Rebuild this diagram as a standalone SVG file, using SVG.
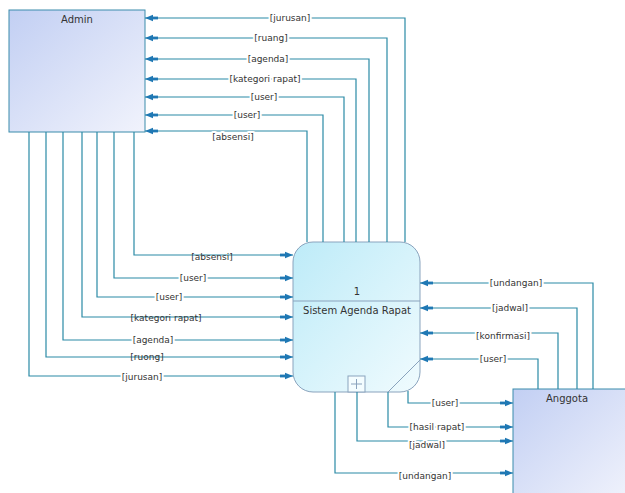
<svg xmlns="http://www.w3.org/2000/svg" width="625" height="493" viewBox="0 0 625 493">
<style>
.ln{fill:none;stroke:#2a8aa6;stroke-width:1.2;marker-end:url(#ah)}
.lb{font-family:"DejaVu Sans","Liberation Sans",sans-serif;font-size:9px;fill:#333;text-anchor:middle;dominant-baseline:central}
.gp{paint-order:stroke;stroke:#fff;stroke-width:4px;stroke-linejoin:round}
.nt{font-family:"DejaVu Sans","Liberation Sans",sans-serif;font-size:10px;fill:#333;text-anchor:middle}
</style>
<defs>
<marker id="ah" markerUnits="userSpaceOnUse" markerWidth="14" markerHeight="8" refX="13" refY="4" orient="auto" overflow="visible">
<path d="M13,4 L5,0.8 L5,7.2 Z" fill="#1f78b4"/>
<rect x="0" y="2.6" width="6" height="2.8" fill="#1f78b4"/>
</marker>
<linearGradient id="gA" x1="0" y1="0" x2="1" y2="1">
<stop offset="0" stop-color="#c2cff3"/>
<stop offset="1" stop-color="#f1f3fc"/>
</linearGradient>
<linearGradient id="gP" x1="0" y1="0" x2="1" y2="1">
<stop offset="0" stop-color="#bdebf8"/>
<stop offset="1" stop-color="#f0fbfe"/>
</linearGradient>
</defs>
<g id="admin">
<rect x="9" y="10" width="136" height="122" fill="url(#gA)" stroke="#3a8cab" stroke-width="1"/>
<text class="nt" x="77" y="23">Admin</text>
</g>
<g id="anggota">
<rect x="513" y="389" width="120" height="110" fill="url(#gA)" stroke="#3a8cab" stroke-width="1"/>
<text class="nt" x="567" y="402">Anggota</text>
</g>
<g id="process">
<rect x="293" y="242" width="127" height="150" rx="20" ry="20" fill="url(#gP)" stroke="#8aa3bd" stroke-width="1"/>
<line x1="293" y1="301" x2="420" y2="301" stroke="#8aa3bd" stroke-width="1"/>
<line x1="388" y1="392" x2="420" y2="360" stroke="#8aa3bd" stroke-width="1"/>
<rect x="348" y="376" width="17" height="16" fill="#f4fdff" stroke="#8aa3bd" stroke-width="1"/>
<path d="M351,384 H362 M356.5,379 V389" stroke="#8aa3bd" stroke-width="1"/>
<text class="nt" x="357" y="295">1</text>
<text class="nt" x="357" y="314">Sistem Agenda Rapat</text>
</g>
<g id="connectors">
<path class="ln" d="M405,242 V18 H145"/>
<path class="ln" d="M387,242 V38 H145"/>
<path class="ln" d="M369,242 V59 H145"/>
<path class="ln" d="M356,242 V79 H145"/>
<path class="ln" d="M344,242 V97 H145"/>
<path class="ln" d="M323,242 V115 H145"/>
<path class="ln" d="M307,242 V131 H145"/>
<path class="ln" d="M134,132 V255 H293"/>
<path class="ln" d="M114,132 V278 H293"/>
<path class="ln" d="M97,132 V297 H293"/>
<path class="ln" d="M82,132 V317 H293"/>
<path class="ln" d="M63,132 V340 H293"/>
<path class="ln" d="M46,132 V357 H293"/>
<path class="ln" d="M29,132 V376 H293"/>
<path class="ln" d="M593,389 V283 H420"/>
<path class="ln" d="M577,389 V308 H420"/>
<path class="ln" d="M558,389 V333 H420"/>
<path class="ln" d="M538,389 V359 H420"/>
<path class="ln" d="M408,391 V403 H513"/>
<path class="ln" d="M388,392 V427 H513"/>
<path class="ln" d="M357,392 V441 H513"/>
<path class="ln" d="M335,392 V473 H513"/>
<text class="lb gp" x="290" y="18">[jurusan]</text>
<text class="lb gp" x="271" y="38">[ruang]</text>
<text class="lb gp" x="268" y="59">[agenda]</text>
<text class="lb gp" x="265" y="79">[kategori rapat]</text>
<text class="lb gp" x="264" y="97">[user]</text>
<text class="lb gp" x="247" y="115">[user]</text>
<text class="lb gp" x="233" y="137">[absensi]</text>
<text class="lb" x="212" y="257">[absensi]</text>
<text class="lb gp" x="193" y="278">[user]</text>
<text class="lb gp" x="169" y="297">[user]</text>
<text class="lb" x="166" y="318">[kategori rapat]</text>
<text class="lb gp" x="153" y="340">[agenda]</text>
<text class="lb" x="147" y="357">[ruong]</text>
<text class="lb gp" x="142" y="377">[jurusan]</text>
<text class="lb gp" x="516" y="283">[undangan]</text>
<text class="lb gp" x="510" y="308">[jadwal]</text>
<text class="lb gp" x="503" y="336">[konfirmasi]</text>
<text class="lb gp" x="493" y="359">[user]</text>
<text class="lb gp" x="445" y="403">[user]</text>
<text class="lb gp" x="437" y="427">[hasil rapat]</text>
<text class="lb gp" x="427" y="445">[jadwal]</text>
<text class="lb gp" x="425" y="476">[undangan]</text>
</g>
</svg>
